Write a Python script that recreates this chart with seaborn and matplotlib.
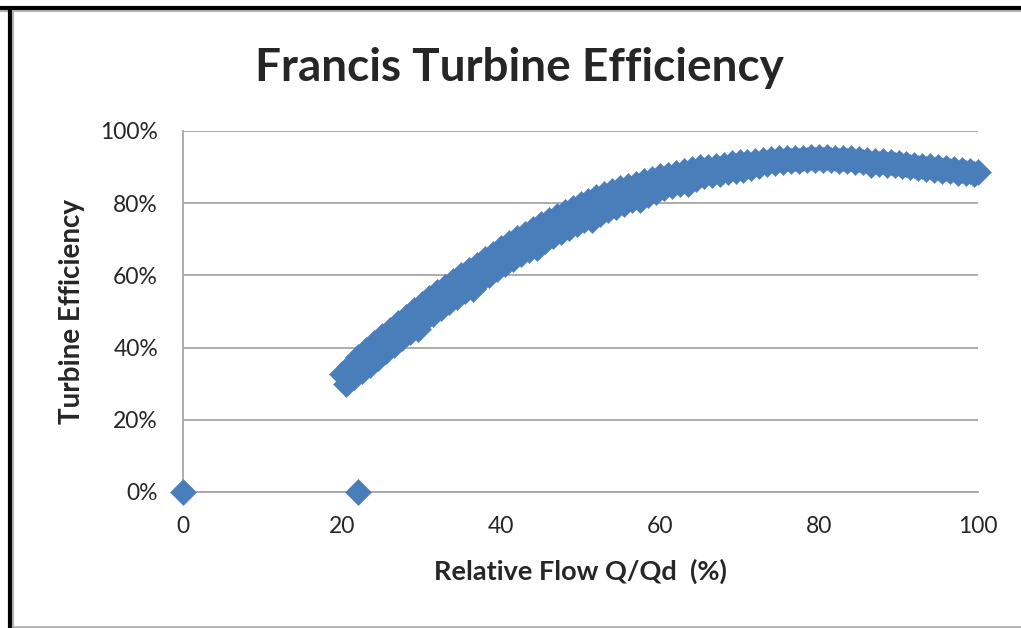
import matplotlib
matplotlib.use("Agg")
import matplotlib.pyplot as plt
from matplotlib.lines import Line2D
import seaborn as sns
import pandas as pd

# ---- data ----
flow_upper = list(range(20, 101))
eff_upper = [32.8, 35.0, 37.4, 39.4, 41.3, 43.2, 45.0, 46.8, 48.6, 50.3,
             52.0, 53.7, 55.3, 56.9, 58.5, 60.0, 61.5, 63.0, 64.5, 66.0,
             67.5, 68.9, 70.3, 71.6, 72.9, 74.1, 75.3, 76.5, 77.6, 78.7,
             79.8, 80.7, 81.6, 82.5, 83.3, 84.1, 84.7, 85.4, 86.1, 86.8,
             87.4, 87.8, 88.4, 89.0, 89.5, 89.9, 89.9, 90.2, 90.6, 91.0,
             91.4,
             91.4, 91.7, 92.0, 92.2, 92.4, 92.4, 92.5, 92.6, 92.7, 92.7,
             92.7, 92.6, 92.5, 92.4, 92.2, 92.0, 91.8, 91.6, 91.4, 91.1,
             90.9, 90.7, 90.4, 90.2, 89.9, 89.7, 89.4, 89.2, 88.9, 88.7]

flow_lower = [v + 0.5 for v in range(20, 100)]
eff_lower = [30.0, 31.8, 33.4, 35.3, 37.1, 39.0, 40.8, 42.6, 44.3, 45.2,
             47.8, 49.4, 51.0, 52.6, 54.1, 55.7, 56.3, 58.7, 60.1, 61.7,
             63.1, 64.5, 65.9, 67.1, 67.6, 69.6, 70.8, 71.9, 73.1, 74.2,
             75.3, 75.4, 77.1, 78.0, 79.0, 79.9, 81.0, 80.9, 82.4, 83.2,
             84.1, 84.7, 85.3, 85.3, 86.6, 87.4, 87.8, 88.2, 88.6, 89.0,
             89.2, 89.8, 90.3, 90.9, 91.1, 91.5, 91.7, 91.8, 91.9, 91.9,
             91.9, 91.9, 91.8, 91.7, 91.5, 91.3, 90.5, 90.9, 90.7, 90.5,
             90.2, 90.0, 89.8, 89.5, 89.3, 89.0, 88.8, 88.5, 88.3, 88.0]

flow_zero = [0, 22]
eff_zero = [0.0, 0.0]

x_ticks = [0, 20, 40, 60, 80, 100]
y_ticks = [0, 20, 40, 60, 80, 100]

df = pd.DataFrame({
    "flow": flow_upper + flow_lower + flow_zero,
    "eff": [v / 100 for v in eff_upper + eff_lower + eff_zero],
})

# ---- figure ----
sns.set_style("white")
plt.rcParams["font.family"] = ["Lato", "DejaVu Sans"]

W, H = 1021, 628
fig = plt.figure(figsize=(W / 100, H / 100), dpi=100)
ax = fig.add_axes([183 / W, (H - 492) / H, (978 - 183) / W, (492 - 131) / H])

blue = "#4a7ebb"
sns.scatterplot(data=df, x="flow", y="eff", marker="D", s=178, color=blue,
                edgecolor=blue, linewidth=0.3, ax=ax, clip_on=False, zorder=3)

ax.set_xlim(0, 100)
ax.set_ylim(0, 1)
ax.set_xticks(x_ticks)
ax.set_yticks([v / 100 for v in y_ticks])
ax.set_yticklabels([f"{v}%" for v in y_ticks])
ax.tick_params(axis="both", length=0, labelsize=16.5, colors="#262626")
ax.tick_params(axis="x", pad=17)
ax.tick_params(axis="y", pad=18)

ax.grid(axis="y", color="#a6a6a6", linewidth=1.3)
ax.grid(axis="x", visible=False)
for side in ["top", "right"]:
    ax.spines[side].set_visible(False)
ax.spines["left"].set_color("#a6a6a6")
ax.spines["bottom"].set_color("#a6a6a6")
ax.spines["left"].set_linewidth(1.3)
ax.spines["bottom"].set_linewidth(1.3)

ax.set_xlabel("Relative Flow Q/Qd  (%)", fontsize=19.5, fontweight="bold", labelpad=16)
ax.set_ylabel("Turbine Efficiency", fontsize=20, fontweight="bold", labelpad=11)

fig.text(519 / W, 1 - 68 / H, "Francis Turbine Efficiency", ha="center", va="center",
         fontsize=33, fontweight="bold")

# outer frame
fig.add_artist(Line2D([0, 1], [1 - 8 / H, 1 - 8 / H], transform=fig.transFigure,
                      color="black", linewidth=3))
fig.add_artist(Line2D([0, 1], [1 - 11 / H, 1 - 11 / H], transform=fig.transFigure,
                      color="#b0b0b0", linewidth=1.5))
fig.add_artist(Line2D([10 / W, 10 / W], [0, 1 - 8 / H], transform=fig.transFigure,
                      color="black", linewidth=3))
fig.add_artist(Line2D([13 / W, 13 / W], [0, 1 - 11 / H], transform=fig.transFigure,
                      color="#b0b0b0", linewidth=1.5))
fig.add_artist(Line2D([13 / W, 1], [1.5 / H, 1.5 / H], transform=fig.transFigure,
                      color="#b0b0b0", linewidth=2))

fig.savefig("out.png", dpi=100, facecolor="white")
